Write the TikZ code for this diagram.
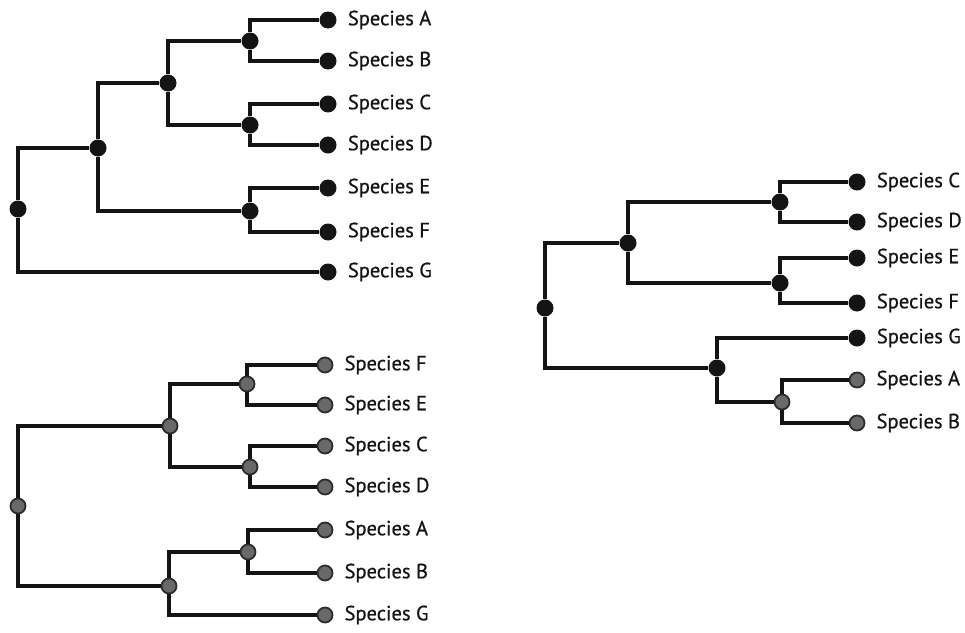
\documentclass[tikz,border=0pt]{standalone}
\usepackage{fontspec}
\usepackage{tikz}
\usetikzlibrary{positioning}
\newfontfamily\treefont[FakeBold=0.7]{PT Sans}
\definecolor{darkline}{RGB}{20,20,20}
\definecolor{dotgray}{RGB}{105,105,105}
\definecolor{dotrim}{RGB}{45,45,45}
\tikzset{
        blackdot/.style={
            circle, fill=darkline, inner sep=0pt,
            minimum size=17pt
        },
        graydot/.style={
            circle, fill=dotgray, draw=dotrim, line width=1.8pt,
            inner sep=0pt, minimum size=15pt
        },
        branch/.style={
            draw=darkline, line width=3.2pt
        },
        taxon/.style={
            inner sep=0pt, anchor=west, text=darkline,
            font=\treefont\fontsize{20.5}{24}\selectfont
        }
    }

\begin{document}
\begin{tikzpicture}[
    x=1pt, y=-1pt,
    node distance = 11pt,
  ]
    \useasboundingbox (0,0) rectangle (965,632);

    % tree top left
    \node[blackdot] (a1) at (328,20) {};
    \node[blackdot] (b1) at (328,61) {};
    \node[blackdot] (c1) at (328,104) {};
    \node[blackdot] (d1) at (328,145) {};
    \node[blackdot] (e1) at (328,188) {};
    \node[blackdot] (f1) at (328,232) {};
    \node[blackdot] (g1) at (328,272) {};
    \node[blackdot] (ab1) at (250,41) {};
    \node[blackdot] (cd1) at (250,125) {};
    \node[blackdot] (ef1) at (250,211) {};
    \node[blackdot] (ad1) at (168,83) {};
    \node[blackdot] (af1) at (98,148) {};
    \node[blackdot] (root1) at (18,209) {};

    \path[branch]
    (ab1) |- (a1) (ab1) |- (b1)
    (cd1) |- (c1) (cd1) |- (d1)
    (ef1) |- (e1) (ef1) |- (f1)
    (ad1) |- (ab1) (ad1) |- (cd1)
    (af1) |- (ad1) (af1) |- (ef1)
    (root1) |- (af1) (root1) |- (g1);

    \node[taxon, right=of a1] (ta1) {Species A};
    \node[taxon, right=of b1] (tb1) {Species B};
    \node[taxon, right=of c1] (tc1) {Species C};
    \node[taxon, right=of d1] (td1) {Species D};
    \node[taxon, right=of e1] (te1) {Species E};
    \node[taxon, right=of f1] (tf1) {Species F};
    \node[taxon, right=of g1] (tg1) {Species G};

    % tree bottom left
    \node[graydot] (f2) at (325,365) {};
    \node[graydot] (e2) at (325,405) {};
    \node[graydot] (c2) at (325,446) {};
    \node[graydot] (d2) at (325,487) {};
    \node[graydot] (a2) at (325,530) {};
    \node[graydot] (b2) at (325,573) {};
    \node[graydot] (g2) at (325,615) {};
    \node[graydot] (fe2) at (247,384) {};
    \node[graydot] (cd2) at (250,467) {};
    \node[graydot] (fd2) at (170,426) {};
    \node[graydot] (ab2) at (248,552) {};
    \node[graydot] (abg2) at (169,586) {};
    \node[graydot] (root2) at (18,506) {};

    \path[branch]
    (fe2) |- (f2) (fe2) |- (e2)
    (cd2) |- (c2) (cd2) |- (d2)
    (ab2) |- (a2) (ab2) |- (b2)
    (fd2) |- (fe2) (fd2) |- (cd2)
    (abg2) |- (ab2) (abg2) |- (g2)
    (root2) |- (fd2) (root2) |- (abg2);

    \node[taxon, right=of f2] (tf2) {Species F};
    \node[taxon, right=of e2] (te2) {Species E};
    \node[taxon, right=of c2] (tc2) {Species C};
    \node[taxon, right=of d2] (td2) {Species D};
    \node[taxon, right=of a2] (ta2) {Species A};
    \node[taxon, right=of b2] (tb2) {Species B};
    \node[taxon, right=of g2] (tg2) {Species G};

    % tree right
    \node[blackdot] (c3) at (857,182) {};
    \node[blackdot] (d3) at (857,222) {};
    \node[blackdot] (e3) at (857,258) {};
    \node[blackdot] (f3) at (857,303) {};
    \node[blackdot] (g3) at (857,338) {};
    \node[graydot] (a3) at (857,380) {};
    \node[graydot] (b3) at (857,423) {};
    \node[blackdot] (cd3) at (780,202) {};
    \node[blackdot] (ef3) at (780,283) {};
    \node[blackdot] (cf3) at (628,243) {};
    \node[graydot] (ab3) at (782,402) {};
    \node[blackdot] (gab3) at (717,368) {};
    \node[blackdot] (root3) at (545,308) {};

    \path[branch]
    (cd3) |- (c3) (cd3) |- (d3)
    (ef3) |- (e3) (ef3) |- (f3)
    (ab3) |- (a3) (ab3) |- (b3)
    (cf3) |- (cd3) (cf3) |- (ef3)
    (gab3) |- (g3) (gab3) |- (ab3)
    (root3) |- (cf3) (root3) |- (gab3);

    \node[taxon, right=of c3] (tc3) {Species C};
    \node[taxon, right=of d3] (td3) {Species D};
    \node[taxon, right=of e3] (te3) {Species E};
    \node[taxon, right=of f3] (tf3) {Species F};
    \node[taxon, right=of g3] (tg3) {Species G};
    \node[taxon, right=of a3] (ta3) {Species A};
    \node[taxon, right=of b3] (tb3) {Species B};

\end{tikzpicture}
\end{document}
